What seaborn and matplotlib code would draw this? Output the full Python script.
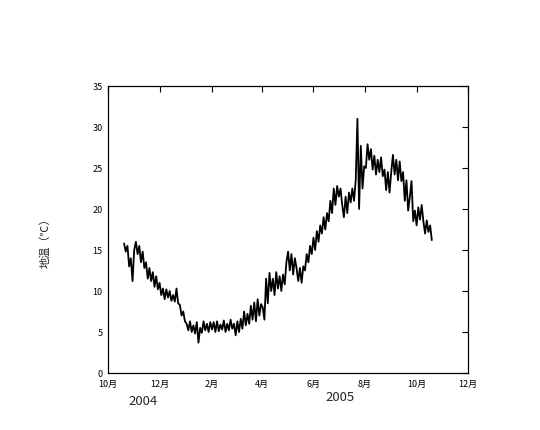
import numpy as np
import pandas as pd
import matplotlib
matplotlib.use('Agg')
import matplotlib.pyplot as plt
import seaborn as sns

# Ground temperature, one reading every 2 days from 2004-10-20
oct04 = [15.8, 14.8, 15.5, 13.0, 14.0, 11.2]
nov04 = [15.0, 16.0, 14.5, 15.5, 13.5, 14.8, 12.8, 13.5, 11.5, 12.8, 11.2, 12.3, 10.5, 11.8, 10.2]
dec04 = [11.0, 9.5, 10.3, 9.0, 10.2, 9.2, 10.0, 8.8, 9.5, 8.7, 10.3, 8.5, 8.3, 7.0, 7.5, 6.3]
jan05 = [6.0, 5.2, 6.3, 5.0, 5.8, 4.8, 6.2, 3.7, 5.5, 4.9, 6.3, 5.2, 6.0, 5.0, 6.2]
feb05 = [5.3, 6.2, 5.0, 6.3, 5.1, 5.9, 5.3, 6.4, 5.0, 6.0, 5.2, 6.5, 5.4, 6.0]
mar05 = [4.6, 6.3, 5.0, 6.6, 5.4, 7.5, 5.8, 7.2, 6.0, 8.2, 6.5, 8.6, 6.3, 9.0, 7.0, 8.4]
apr05 = [8.0, 6.5, 11.5, 8.5, 12.2, 10.0, 11.5, 9.5, 12.3, 10.3, 11.8, 10.0, 12.0, 10.8, 13.5]
may05 = [14.8, 12.5, 14.5, 12.0, 14.0, 12.8, 11.2, 12.8, 11.0, 13.0, 12.5, 14.5, 13.5, 15.5, 14.5]
jun05 = [16.5, 15.0, 17.3, 16.0, 18.0, 17.0, 19.0, 17.5, 19.5, 18.5, 21.0, 19.5, 22.5, 20.5, 22.8]
jul05 = [21.5, 22.5, 20.5, 19.0, 21.5, 19.5, 22.0, 20.8, 22.5, 21.0, 23.5, 31.0, 20.0, 27.7, 22.5, 25.2]
aug05 = [25.0, 27.9, 26.0, 27.3, 24.8, 26.5, 24.2, 26.0, 24.5, 26.3, 24.0, 24.8, 22.3, 24.5, 22.0]
sep05 = [24.5, 26.6, 24.2, 26.0, 23.5, 25.8, 23.4, 24.5, 21.0, 23.5, 19.8, 21.5, 23.4, 18.5, 19.8]
oct05 = [18.0, 20.2, 18.7, 20.5, 18.5, 17.0, 18.6, 17.2, 18.0, 16.2]

temp = oct04 + nov04 + dec04 + jan05 + feb05 + mar05 + apr05 + may05 + jun05 + jul05 + aug05 + sep05 + oct05
dates = pd.date_range('2004-10-20', periods=len(temp), freq='2D')
df = pd.DataFrame({'date': dates, 'temp': temp})

y_ticks = [0, 5, 10, 15, 20, 25, 30, 35]
x_ticks = pd.to_datetime(['2004-10-01', '2004-12-01', '2005-02-01', '2005-04-01',
                          '2005-06-01', '2005-08-01', '2005-10-01', '2005-12-01'])
x_labels = ['10月', '12月', '2月', '4月', '6月', '8月', '10月', '12月']

sns.set_style('white')
plt.rcParams['font.family'] = ['Noto Sans CJK JP', 'DejaVu Sans']

fig = plt.figure(figsize=(5.4, 4.31), dpi=100)
ax = fig.add_axes([0.2, 0.1323, 0.667, 0.6659])

sns.lineplot(data=df, x='date', y='temp', color='black', linewidth=1.3, ax=ax)

ax.set_xlim(x_ticks[0], x_ticks[-1])
ax.set_ylim(0, 35)
ax.set_xticks(x_ticks)
ax.set_xticklabels(x_labels)
ax.set_yticks(y_ticks)
ax.tick_params(direction='in', length=4, width=0.8, top=True, right=True,
               labelsize=6.5, pad=4, colors='black')
for s in ax.spines.values():
    s.set_color('black')
    s.set_linewidth(0.9)
ax.set_xlabel('')
ax.set_ylabel('')

fig.text(45 / 540, 1 - 240 / 431, '地温（℃）', rotation=90, fontsize=8,
         ha='center', va='center')
fig.text(143 / 540, 1 - 402 / 431, '2004', fontsize=9.5, ha='center', va='center')
fig.text(340 / 540, 1 - 398 / 431, '2005', fontsize=9.5, ha='center', va='center')

fig.savefig('out.png', dpi=100)
